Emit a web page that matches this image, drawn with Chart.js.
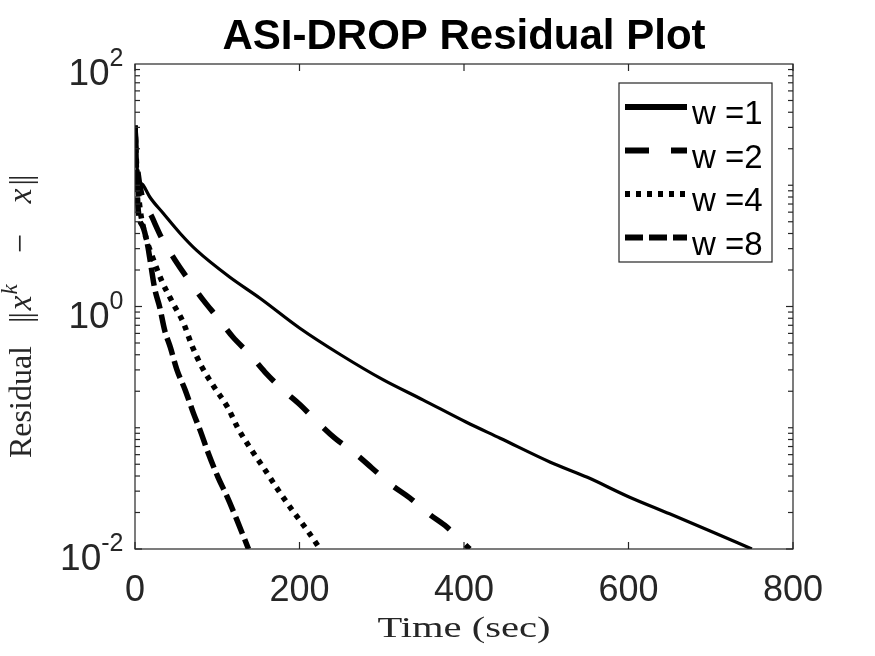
<!DOCTYPE html>
<html><head><meta charset="utf-8">
<script src="https://cdn.jsdelivr.net/npm/chart.js@4.4.1/dist/chart.umd.min.js"></script>
<style>html,body{margin:0;padding:0;background:#fff;}</style>
</head><body>
<canvas id="c" width="875" height="656"></canvas>
<script>
// ---- data ----
const chartTitle = 'ASI-DROP Residual Plot';
const seriesLabels = ['w =1', 'w =2', 'w =4', 'w =8'];

const t1 = [0, 1, 2, 4, 10, 18, 34, 55, 75, 115, 152, 200, 250, 302, 350, 403, 444, 505, 550, 600, 650, 700, 750];
const r1 = [31, 22, 16, 11.7, 10, 8.0, 5.9, 4.0, 2.9, 1.75, 1.17, 0.665, 0.40, 0.248, 0.17, 0.111, 0.082, 0.052, 0.039, 0.027, 0.0195, 0.014, 0.01];

const t2 = [0, 1, 3, 8, 21, 34, 49, 67, 83, 101, 119, 140, 158, 180, 201, 222, 243, 267, 288, 312, 334, 359, 379, 407];
const r2 = [31, 22, 14, 8.5, 5.4, 3.5, 2.4, 1.59, 1.13, 0.80, 0.56, 0.40, 0.288, 0.205, 0.154, 0.111, 0.082, 0.062, 0.0466, 0.0337, 0.0264, 0.0191, 0.0152, 0.01];

const t4 = [0, 1, 3, 6, 12, 20, 33, 46, 59, 69, 81, 97, 113, 125, 142, 158, 174, 191, 209, 225];
const r4 = [31, 20, 11, 6.5, 4.0, 2.7, 1.6, 1.07, 0.73, 0.48, 0.32, 0.213, 0.146, 0.0995, 0.065, 0.045, 0.0307, 0.021, 0.0144, 0.01];

const t8 = [0, 1, 2, 4, 10, 15, 18, 24, 30, 36, 43, 51, 61, 71, 79, 89, 101, 112, 124, 138];
const r8 = [31, 20, 12, 6.2, 4.5, 3.3, 2.5, 1.40, 0.99, 0.64, 0.46, 0.30, 0.205, 0.132, 0.096, 0.062, 0.039, 0.027, 0.0173, 0.01];

const xTicks = [0, 200, 400, 600, 800];
const yLabelValues = [0.01, 1, 100];
const yLabelExponents = ['-2', '0', '2'];

// ---- styles ----
const lineStyles = [
  { dash: [], width: 3.2 },
  { dash: [24, 22], width: 5.5 },
  { dash: [5, 6], width: 5.5 },
  { dash: [18, 6], width: 5.5 }
];
const AXIS_COLOR = '#262626';
const SANS = '"Liberation Sans", Arial, Helvetica, sans-serif';
const SERIF = '"Liberation Serif", "Times New Roman", "DejaVu Serif", serif';

function pts(t, r) { return t.map((v, i) => ({ x: v, y: r[i] })); }
const allT = [t1, t2, t4, t8];
const allR = [r1, r2, r4, r8];

const datasets = seriesLabels.map((lab, i) => ({
  label: lab,
  data: pts(allT[i], allR[i]),
  borderColor: '#000',
  backgroundColor: '#000',
  borderWidth: lineStyles[i].width,
  borderDash: lineStyles[i].dash,
  borderCapStyle: 'butt',
  pointRadius: 0,
  fill: false,
  cubicInterpolationMode: 'monotone'
}));

function seg(ctx, x1, y1, x2, y2) { ctx.beginPath(); ctx.moveTo(x1, y1); ctx.lineTo(x2, y2); ctx.stroke(); }

const matlabAxes = {
  id: 'matlabAxes',
  afterDatasetsDraw(chart) {
    const { ctx, chartArea: a, scales: { x, y } } = chart;
    ctx.save();
    ctx.strokeStyle = AXIS_COLOR;
    ctx.lineWidth = 1.2;
    ctx.setLineDash([]);
    ctx.strokeRect(a.left, a.top, a.right - a.left, a.bottom - a.top);
    // x ticks (inward, bottom and top)
    xTicks.forEach(v => {
      const px = x.getPixelForValue(v);
      seg(ctx, px, a.bottom, px, a.bottom - 7);
      seg(ctx, px, a.top, px, a.top + 7);
    });
    // y ticks: majors at labelled decades, minors elsewhere
    for (let e = -2; e < 2; e++) {
      for (let m = 1; m <= 9; m++) {
        const v = m * Math.pow(10, e);
        const py = y.getPixelForValue(v);
        const major = (m === 1 && (e === -2 || e === 0));
        const L = major ? 7 : 5;
        seg(ctx, a.left, py, a.left + L, py);
        seg(ctx, a.right, py, a.right - L, py);
      }
    }
    // y tick labels 10^e
    yLabelValues.forEach((v, i) => {
      const py = y.getPixelForValue(v);
      const right = a.left - 11.5;
      ctx.fillStyle = AXIS_COLOR;
      ctx.textBaseline = 'alphabetic';
      ctx.textAlign = 'right';
      ctx.font = '25px ' + SANS;
      const ew = ctx.measureText(yLabelExponents[i]).width;
      ctx.fillText(yLabelExponents[i], right, py + 2);
      ctx.font = '37px ' + SANS;
      ctx.fillText('10', right - ew, py + 21);
    });

    // legend
    const lx = 619, ly = 83, lw = 153, lh = 179;
    ctx.fillStyle = '#fff';
    ctx.fillRect(lx, ly, lw, lh);
    ctx.strokeStyle = AXIS_COLOR;
    ctx.lineWidth = 1.2;
    ctx.strokeRect(lx, ly, lw, lh);
    chart.data.datasets.forEach((ds, i) => {
      const yy = ly + 24 + i * 43.5;
      ctx.strokeStyle = '#000';
      ctx.lineWidth = 6;
      ctx.lineCap = 'butt';
      ctx.setLineDash(ds.borderDash || []);
      seg(ctx, lx + 6, yy, lx + 68, yy);
      ctx.setLineDash([]);
      ctx.fillStyle = '#000';
      ctx.font = '33px ' + SANS;
      ctx.textAlign = 'left';
      ctx.textBaseline = 'alphabetic';
      ctx.fillText(ds.label, lx + 73, yy + 17);
    });
    ctx.restore();
  },
  afterDraw(chart) {
    const { ctx, chartArea: a } = chart;
    const cx = (a.left + a.right) / 2;
    // title
    ctx.save();
    ctx.fillStyle = '#000';
    ctx.font = 'bold 42px ' + SANS;
    ctx.textAlign = 'center';
    ctx.textBaseline = 'alphabetic';
    ctx.fillText(chartTitle, cx, 49);
    ctx.restore();

    // x axis title, stretched like the reference
    ctx.save();
    ctx.fillStyle = AXIS_COLOR;
    ctx.font = '30px ' + SERIF;
    const txt = 'Time (sec)';
    const w = ctx.measureText(txt).width;
    ctx.translate(cx, 637);
    ctx.scale(173 / w, 1);
    ctx.textAlign = 'center';
    ctx.textBaseline = 'alphabetic';
    ctx.fillText(txt, 0, 0);
    ctx.restore();

    // y axis title: Residual ||x^k - x||
    ctx.save();
    ctx.fillStyle = AXIS_COLOR;
    ctx.translate(31, 458);
    ctx.rotate(-Math.PI / 2);
    ctx.textAlign = 'left';
    ctx.textBaseline = 'alphabetic';
    let cur = 0;
    const put = (s, font, dy) => { ctx.font = font; ctx.fillText(s, cur, dy || 0); cur += ctx.measureText(s).width; };
    const bars = () => { put('|', '32px ' + SERIF); cur -= 2; put('|', '32px ' + SERIF); };
    put('Residual', '32px ' + SERIF);
    cur += 23;
    bars();
    cur += 2;
    put('x', 'italic 33px ' + SERIF);
    cur += 1;
    put('k', 'italic 23px ' + SERIF, -14);
    cur += 31;
    put('\u2212', '34px ' + SERIF);
    cur += 31;
    put('x', 'italic 33px ' + SERIF);
    cur += 3;
    bars();
    ctx.restore();
  }
};

new Chart(document.getElementById('c'), {
  type: 'line',
  data: { datasets },
  options: {
    responsive: false,
    animation: false,
    events: [],
    layout: { padding: { left: 0, right: 82, top: 64, bottom: 0 } },
    plugins: {
      legend: { display: false },
      tooltip: { enabled: false },
      title: { display: false }
    },
    scales: {
      x: {
        type: 'linear', min: 0, max: 800,
        grid: { display: false, drawTicks: false, tickLength: 0 },
        border: { display: false },
        ticks: { stepSize: 200, padding: 20, color: AXIS_COLOR, maxRotation: 0, autoSkip: false,
                 font: { family: SANS, size: 36 } },
        afterFit: s => { s.height = 107; }
      },
      y: {
        type: 'logarithmic', min: 0.01, max: 100,
        grid: { display: false, drawTicks: false, tickLength: 0 },
        border: { display: false },
        ticks: { display: false },
        afterFit: s => { s.width = 135; }
      }
    }
  },
  plugins: [matlabAxes]
});
</script>
</body></html>
